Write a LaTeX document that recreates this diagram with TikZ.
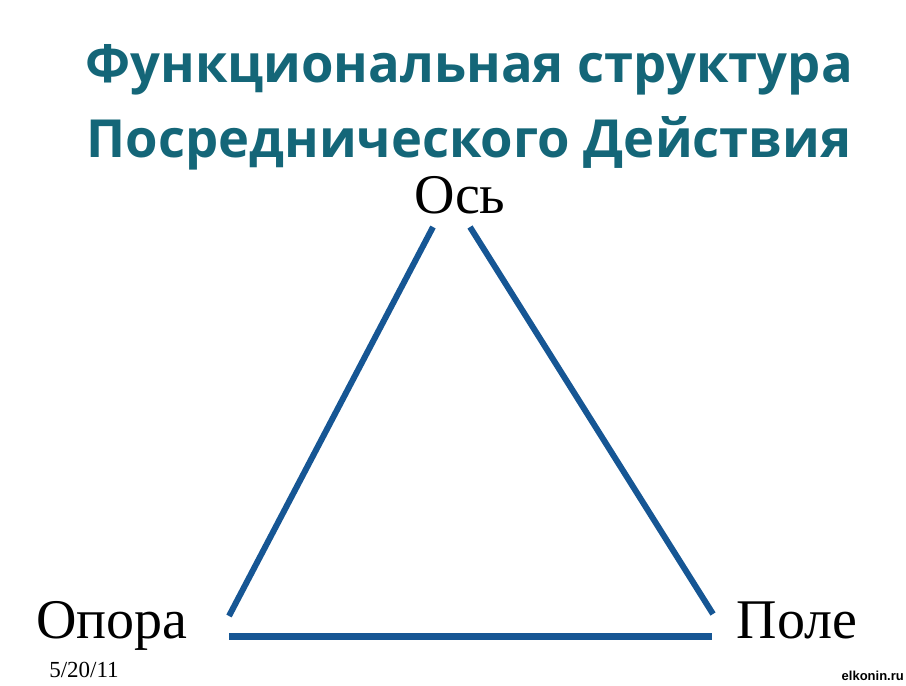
\documentclass[tikz,border=0pt]{standalone}
\usepackage{fontspec}
\setmainfont{Liberation Serif}
\newfontfamily\titlefont{Open Sans}
\newfontfamily\markfont{Liberation Sans}
\usetikzlibrary{positioning}
\definecolor{titleteal}{RGB}{20,102,120}
\definecolor{edgeblue}{RGB}{22,86,148}
\tikzset{title/.style={anchor=base, text=titleteal, inner sep=0pt,
            font=\titlefont\bfseries\fontsize{52.5}{55}\selectfont},
         vertex/.style={anchor=base, inner sep=0pt,
            font=\fontsize{56}{58}\selectfont},
         side/.style={draw=edgeblue, line width=6pt}}

\begin{document}
\begin{tikzpicture}[x=1pt, y=-1pt]
        \useasboundingbox (0,0) rectangle (906,686);
        \node[title] (title1) at (469,82) {Функциональная структура};
        \node[title] (title2) at (469,157) {Посреднического Действия};

        \node[vertex] (os) at (460,213) {Ось};
        \node[vertex] (opora) at (112,638) {Опора};
        \node[vertex] (pole) at (797,638) {Поле};

        % ends of the sides
        \coordinate (osL) at (433,227);
        \coordinate (osR) at (470,227);
        \coordinate (oporaT) at (229,616);
        \coordinate (oporaB) at (229,636);
        \coordinate (poleT) at (713,614);
        \coordinate (poleB) at (712,636);

        \draw[side] (osL) -- (oporaT);
        \draw[side] (osR) -- (poleT);
        \draw[side, line width=7pt] (oporaB) -- (poleB);

        \node[anchor=base, inner sep=0pt, font=\fontsize{23}{24}\selectfont] (date) at (84,677) {5/20/11};
        \node[anchor=base east, inner sep=0pt, font=\markfont\bfseries\fontsize{13}{14}\selectfont] (site) at (904,680) {elkonin.ru};
\end{tikzpicture}
\end{document}
